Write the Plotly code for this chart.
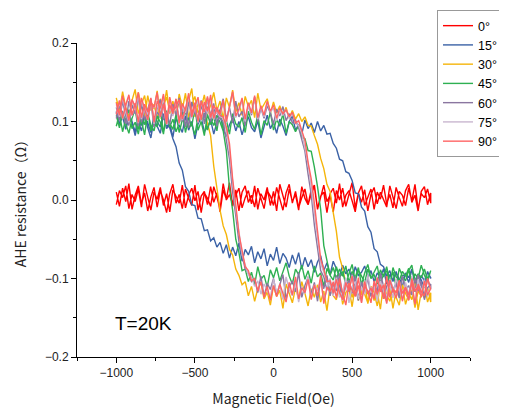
import numpy as np
import plotly.graph_objects as go

# field sweep points (Oe)
field = [-1000, -980, -960, -940, -920, -900, -880, -860, -840, -820,
         -800, -780, -760, -740, -720, -700, -680, -660, -640, -620,
         -600, -580, -560, -540, -520, -500, -480, -460, -440, -420,
         -400, -380, -360, -340, -320, -300, -280, -260, -240, -220,
         -200, -180, -160, -140, -120, -100, -80, -60, -40, -20,
         0, 20, 40, 60, 80, 100, 120, 140, 160, 180,
         200, 220, 240, 260, 280, 300, 320, 340, 360, 380,
         400, 420, 440, 460, 480, 500, 520, 540, 560, 580,
         600, 620, 640, 660, 680, 700, 720, 740, 760, 780,
         800, 820, 840, 860, 880, 900, 920, 940, 960, 980,
         1000]

# AHE resistance in mOhm
# *_up: sweep -1000 -> +1000, *_dn: sweep +1000 -> -1000 (listed in ascending field)
r0_up = [10, -8, 15, -2, 21, -12, 6, 18, -5, 9,
         -14, 4, 16, -9, 12, 0, -16, 8, 20, -4,
         7, -11, 14, 2, -7, 19, -13, 5, 11, -6,
         17, -3, 9, -15, 13, 1, 22, -8, 6, 15,
         -10, 3, 12, -5, 18, -12, 8, 0, 16, -7,
         11, -14, 20, 4, -9, 14, -2, 7, -13, 17,
         2, -6, 13, 19, -11, 5, 10, -16, 8, 15,
         -4, 21, -9, 6, 12, -1, -15, 9, 18, -7,
         4, 14, -12, 10, 1, 19, -5, 7, -10, 16,
         3, -8, 12, 20, -3, 6, -14, 11, 17, -6,
         9]
r0_dn = [-6, 12, 3, 18, -11, 7, -2, 14, -9, 20,
         5, -13, 10, 1, 16, -7, 8, -15, 13, 4,
         -4, 19, -10, 6, 15, -1, 11, -16, 9, 2,
         -8, 17, 4, -12, 21, 0, 7, -5, 13, -14,
         10, 18, -3, 6, -9, 15, 2, -11, 12, 5,
         -7, 16, 1, -13, 9, 20, -4, 11, -10, 3,
         14, -6, 8, 17, -12, 2, 19, -2, 6, -15,
         12, 0, 15, -8, 5, 22, -10, 9, -3, 13,
         -14, 7, 16, -5, 10, 1, -9, 18, 4, -11,
         11, 6, -7, 15, -1, 20, -12, 8, 3, 14,
         -4]

r15_up = [112, 96, 108, 90, 104, 99, 82, 101, 88, 106,
          92, 79, 103, 95, 85, 110, 91, 98, 80, 104,
          94, 86, 107, 89, 100, 78, 97, 105, 87, 93,
          102, 84, 99, 109, 90, 81, 96, 104, 88, 100,
          83, 97, 106, 92, 87, 101, 79, 95, 108, 91,
          99, 85, 103, 94, 82, 100, 107, 89, 96, 84,
          102, 91, 98, 86, 100, 88, 95, 84, 85, 72,
          66, 52, 50, 36, 34, 25, 9, 8, -9, -14,
          -34, -41, -62, -66, -82, -85, -97, -90, -104, -92,
          -101, -110, -93, -99, -88, -106, -95, -102, -112, -91,
          -100]
r15_dn = [113, 97, 106, 91, 109, 100, 87, 104, 95, 111,
          98, 86, 107, 101, 93, 110, 96, 92, 78, 68,
          47, 38, 17, 11, -6, -7, -23, -24, -39, -38,
          -52, -48, -60, -54, -68, -57, -74, -60, -71, -55,
          -78, -63, -70, -59, -80, -66, -75, -62, -84, -69,
          -77, -60, -81, -68, -74, -86, -70, -82, -67, -88,
          -73, -85, -76, -92, -79, -71, -90, -80, -95, -78,
          -87, -97, -83, -94, -88, -101, -85, -96, -92, -84,
          -99, -90, -104, -93, -98, -88, -107, -95, -102, -91,
          -109, -97, -94, -105, -89, -100, -111, -96, -103, -92,
          -99]

r30_up = [130, 112, 138, 118, 105, 127, 141, 110, 122, 133,
          108, 125, 116, 139, 104, 120, 131, 113, 126, 107,
          135, 119, 111, 128, 142, 106, 123, 117, 134, 109,
          121, 137, 114, 126, 103, 130, 118, 140, 112, 124,
          108, 132, 119, 127, 105, 136, 115, 122, 129, 110,
          125, 111, 120, 108, 118, 104, 114, 103, 110, 100,
          106, 95, 94, 82, 71, 53, 40, 20, 11, -16,
          -40, -73, -87, -107, -106, -124, -109, -128, -113, -120,
          -131, -110, -118, -135, -105, -122, -129, -112, -138, -115,
          -124, -108, -133, -119, -127, -104, -140, -117, -125, -111,
          -130]
r30_dn = [125, 109, 131, 116, 104, 128, 112, 137, 119, 106,
          133, 114, 122, 103, 129, 117, 140, 110, 124, 108,
          127, 115, 136, 105, 121, 132, 111, 118, 113, 99,
          82, 43, 12, -13, -33, -44, -63, -70, -88, -96,
          -108, -104, -122, -110, -129, -113, -105, -126, -117, -134,
          -109, -123, -115, -138, -107, -120, -131, -112, -126, -104,
          -119, -135, -113, -124, -108, -130, -116, -141, -110, -122,
          -127, -105, -133, -118, -112, -136, -109, -125, -120, -103,
          -132, -114, -128, -117, -139, -106, -121, -129, -111, -124,
          -134, -108, -119, -127, -113, -137, -116, -122, -105, -130,
          -118]

r45_up = [108, 92, 113, 97, 85, 104, 116, 90, 101, 83,
          111, 95, 88, 107, 99, 84, 114, 93, 103, 87,
          98, 112, 86, 105, 94, 117, 89, 100, 82, 109,
          96, 106, 88, 115, 91, 102, 84, 110, 97, 93,
          105, 86, 113, 99, 90, 108, 83, 101, 95, 112,
          89, 103, 94, 110, 85, 100, 96, 87, 95, 80,
          78, 63, 62, 42, 17, -12, -58, -78, -96, -86,
          -101, -88, -97, -84, -105, -91, -99, -86, -108, -93,
          -82, -100, -95, -107, -89, -98, -85, -104, -92, -110,
          -87, -97, -103, -90, -83, -106, -94, -99, -88, -101,
          -92]
r45_dn = [94, 110, 87, 103, 115, 91, 99, 84, 107, 96,
          112, 88, 101, 93, 117, 85, 105, 98, 90, 109,
          86, 102, 114, 92, 97, 83, 106, 100, 111, 89,
          104, 95, 108, 99, 88, 63, 15, -13, -50, -67,
          -90, -88, -104, -92, -108, -85, -101, -96, -111, -89,
          -99, -86, -103, -92, -80, -97, -107, -88, -95, -83,
          -101, -90, -106, -84, -98, -93, -110, -87, -96, -102,
          -85, -99, -91, -108, -94, -82, -103, -89, -97, -105,
          -88, -100, -93, -84, -106, -95, -90, -109, -86, -98,
          -103, -91, -97, -87, -107, -94, -100, -83, -96, -104,
          -90]

r60_up = [118, 101, 126, 107, 95, 121, 110, 131, 99, 115,
          104, 124, 93, 117, 128, 102, 112, 96, 122, 108,
          130, 100, 116, 92, 125, 111, 105, 127, 97, 119,
          109, 123, 94, 114, 129, 103, 118, 98, 126, 106,
          113, 95, 122, 108, 131, 100, 117, 104, 120, 111,
          97, 116, 107, 119, 101, 110, 98, 102, 92, 76,
          62, 33, 7, -32, -63, -90, -98, -115, -102, -120,
          -96, -111, -124, -103, -117, -94, -113, -128, -105, -119,
          -99, -122, -108, -115, -93, -126, -110, -101, -118, -106,
          -125, -97, -114, -109, -121, -100, -116, -104, -127, -112,
          -107]
r60_dn = [104, 120, 111, 97, 126, 108, 118, 94, 123, 102,
          115, 129, 99, 112, 106, 124, 96, 119, 110, 128,
          101, 117, 93, 125, 107, 114, 98, 121, 105, 130,
          100, 116, 111, 104, 100, 79, 52, 10, -20, -53,
          -70, -88, -93, -104, -101, -118, -97, -123, -106, -114,
          -100, -121, -108, -95, -126, -111, -103, -117, -92, -124,
          -109, -98, -120, -105, -129, -101, -113, -96, -122, -107,
          -116, -94, -125, -110, -102, -119, -97, -127, -104, -115,
          -99, -123, -108, -118, -93, -112, -128, -101, -114, -106,
          -120, -97, -111, -125, -103, -117, -95, -109, -122, -100,
          -113]

r75_up = [122, 106, 131, 112, 99, 127, 115, 134, 103, 119,
          109, 128, 97, 121, 113, 132, 101, 118, 107, 125,
          96, 120, 111, 133, 104, 117, 126, 100, 123, 110,
          129, 102, 116, 108, 124, 98, 119, 135, 105, 114,
          127, 100, 121, 110, 131, 103, 118, 106, 124, 112,
          117, 101, 113, 108, 115, 104, 110, 97, 95, 85,
          66, 47, 16, -14, -46, -80, -92, -105, -108, -122,
          -99, -117, -128, -104, -114, -96, -121, -109, -130, -102,
          -119, -111, -125, -98, -116, -106, -131, -100, -112, -124,
          -103, -118, -110, -127, -97, -115, -108, -123, -101, -120,
          -112]
r75_dn = [110, 126, 103, 119, 132, 107, 121, 98, 128, 114,
          101, 124, 117, 135, 105, 120, 96, 129, 112, 118,
          127, 102, 115, 133, 108, 122, 99, 125, 111, 130,
          104, 119, 113, 106, 104, 89, 64, 23, -12, -40,
          -69, -81, -96, -98, -110, -103, -120, -107, -116, -124,
          -101, -118, -109, -127, -98, -114, -122, -105, -130, -111,
          -119, -97, -125, -108, -115, -102, -128, -113, -100, -121,
          -106, -124, -117, -99, -131, -110, -104, -126, -112, -120,
          -95, -118, -109, -129, -103, -116, -122, -107, -125, -100,
          -114, -127, -105, -119, -111, -132, -101, -117, -108, -123,
          -110]

r90_up = [124, 108, 133, 115, 101, 128, 119, 137, 105, 122,
          112, 130, 99, 126, 117, 135, 103, 121, 110, 129,
          98, 123, 114, 136, 106, 120, 131, 102, 125, 113,
          134, 104, 118, 109, 127, 100, 121, 138, 107, 116,
          130, 103, 124, 111, 133, 105, 120, 108, 126, 113,
          121, 104, 117, 110, 115, 106, 112, 98, 101, 88,
          76, 48, 27, -4, -38, -75, -88, -104, -103, -119,
          -101, -118, -127, -105, -116, -97, -123, -109, -131, -104,
          -120, -112, -126, -99, -117, -108, -132, -102, -114, -125,
          -106, -119, -111, -128, -100, -116, -109, -124, -103, -121,
          -113]
r90_dn = [109, 127, 104, 121, 134, 108, 123, 99, 130, 115,
          102, 125, 118, 137, 106, 122, 97, 131, 113, 119,
          128, 103, 116, 135, 110, 124, 100, 126, 112, 132,
          105, 120, 114, 108, 106, 93, 72, 27, -6, -43,
          -62, -85, -90, -103, -100, -116, -104, -124, -110, -128,
          -109, -123, -107, -119, -130, -105, -121, -98, -126, -112,
          -118, -101, -127, -108, -122, -96, -132, -111, -117, -104,
          -125, -100, -119, -134, -106, -115, -123, -99, -128, -110,
          -116, -131, -103, -120, -108, -126, -97, -124, -113, -118,
          -102, -129, -111, -121, -105, -133, -107, -117, -122, -100,
          -114]

angles = ["0°", "15°", "30°", "45°", "60°", "75°", "90°"]
branches_up = [r0_up, r15_up, r30_up, r45_up, r60_up, r75_up, r90_up]
branches_dn = [r0_dn, r15_dn, r30_dn, r45_dn, r60_dn, r75_dn, r90_dn]
colors = ["#FF0000", "#3B62A6", "#F5B50A", "#2EB052", "#8A76A0", "#C9B6CF", "#FF6464"]

fig = go.Figure()
for name, up, dn, col in zip(angles, branches_up, branches_dn, colors):
    if len(up) != len(field) or len(dn) != len(field):
        raise ValueError(f"length mismatch for {name}: {len(up)} {len(dn)}")
    # one closed loop: up-sweep then down-sweep back
    x = field + field[::-1]
    y = np.array(up + dn[::-1]) / 1000.0  # mOhm -> Ohm
    fig.add_trace(go.Scatter(x=x, y=y, mode="lines", name=name,
                             line=dict(color=col, width=1.4)))

fig.add_annotation(text="T=20K", x=0.092, y=0.108, xref="paper", yref="paper",
                   xanchor="left", yanchor="middle", showarrow=False,
                   font=dict(size=19, color="black", family="Liberation Sans, Arial"))

axis_common = dict(showline=True, linecolor="black", linewidth=1, mirror=False,
                   showgrid=False, zeroline=False, ticks="outside", ticklen=5,
                   tickcolor="black", tickfont=dict(size=12, color="#222",
                                                    family="Liberation Sans, Arial"))

# page body has an 8px margin, so the margins are shifted to compensate
fig.update_layout(
    width=507, height=409,
    margin=dict(l=69, r=45, t=35, b=60, autoexpand=False),
    paper_bgcolor="white", plot_bgcolor="white",
    showlegend=True,
    legend=dict(x=0.916, y=1.105, xanchor="left", yanchor="top",
                bordercolor="#999", borderwidth=1, bgcolor="white",
                font=dict(size=12.5, color="black", family="Liberation Sans, Arial"),
                tracegroupgap=0),
    xaxis=dict(range=[-1250, 1250], tickvals=[-1000, -500, 0, 500, 1000],
               ticktext=["\u22121000", "\u2212500", "0", "500", "1000"],
               minor=dict(ticks="outside", ticklen=3, dtick=250, tickcolor="black"),
               title=dict(text="Magnetic Field(Oe)", standoff=14,
                          font=dict(size=14, color="#222", family="Noto Sans CJK JP")),
               **axis_common),
    yaxis=dict(range=[-0.2, 0.2], tickvals=[-0.2, -0.1, 0.0, 0.1, 0.2],
               ticktext=["\u22120.2", "\u22120.1", "0.0", "0.1", "0.2"],
               minor=dict(ticks="outside", ticklen=3, dtick=0.05, tickcolor="black"),
               title=dict(text="AHE resistance（Ω）", standoff=14,
                          font=dict(size=14, color="#222", family="Noto Sans CJK JP")),
               **axis_common),
)

fig.write_html("out.html")
